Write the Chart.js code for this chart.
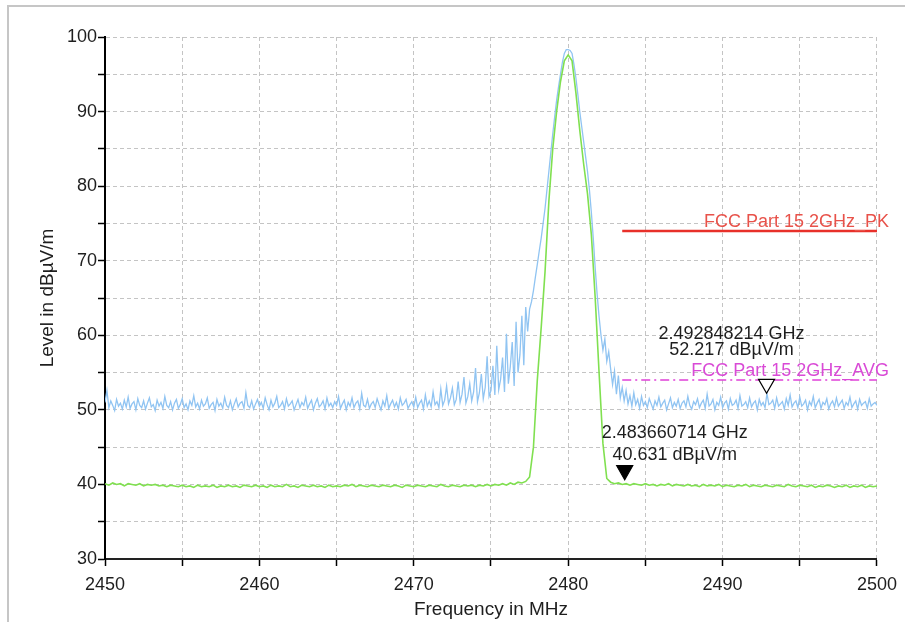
<!DOCTYPE html>
<html>
<head>
<meta charset="utf-8">
<script src="https://cdn.jsdelivr.net/npm/chart.js@4.4.1/dist/chart.umd.min.js"></script>
<style>
html, body { margin: 0; padding: 0; background: #fff; }
#wrap { position: relative; width: 905px; height: 622px; overflow: hidden; }
#wrap canvas { position: absolute; left: 0; top: 0; }
#frame { position: absolute; left: 7px; top: 5px; right: -4px; bottom: -4px; border-top: 2px solid #c6c6c6; border-left: 2px solid #c6c6c6; pointer-events: none; }
</style>
</head>
<body>
<div id="wrap"><canvas id="spectrum" width="905" height="622"></canvas><div id="frame"></div></div>
<script>
/* sweep: 2450 - 2500 MHz */
var sweepStart = 2450;
var sweepStop = 2500;

/* peak trace (blue), dBuV/m, 401 points */
var peakTrace = [
    51.0, 52.6, 50.3, 51.2, 50.6, 49.9, 51.4, 50.5, 50.9, 50.1, 51.3, 50.4, 51.7, 50.2, 50.8, 51.1, 50.0, 51.5, 50.6, 50.3,
    51.2, 50.1, 50.9, 51.6, 50.4, 50.7, 49.9, 51.3, 50.5, 51.0, 50.2, 51.8, 50.6, 50.3, 51.1, 50.0, 50.9, 51.4, 50.2, 50.7,
    51.5, 50.3, 50.8, 50.0, 51.2, 50.6, 51.9, 50.4, 50.9, 50.1, 51.3, 50.5, 50.8, 51.6, 50.2, 50.7, 51.0, 49.9, 51.4, 50.5,
    50.9, 50.2, 51.7, 50.6, 50.3, 51.2, 50.0, 50.8, 51.5, 50.4, 50.9, 51.1, 50.2, 52.3, 50.6, 50.3, 51.2, 50.1, 50.8, 51.4,
    50.5, 51.0, 50.2, 51.6, 50.7, 50.0, 51.3, 50.4, 50.9, 51.8, 50.3, 50.6, 51.1, 50.1, 51.5, 50.5, 50.8, 51.2, 50.0, 50.7,
    51.4, 50.3, 51.0, 50.6, 51.7, 50.2, 50.8, 51.3, 50.0, 50.9, 51.5, 50.4, 50.7, 51.2, 50.1, 51.6, 50.5, 50.9, 50.3, 51.1,
    50.6, 51.8, 50.2, 50.8, 51.3, 50.0, 51.0, 50.5, 51.6, 50.3, 50.9, 51.2, 50.1, 52.2, 50.6, 50.4, 51.4, 50.2, 50.8, 51.1,
    50.3, 51.5, 50.7, 50.0, 51.2, 50.5, 51.9, 50.2, 50.8, 51.3, 50.4, 51.0, 50.1, 51.6, 50.6, 50.9, 51.4, 50.2, 50.7, 51.1,
    50.4, 51.7, 50.3, 50.9, 51.3, 50.1, 52.0, 50.5, 51.2, 50.4, 52.4, 50.7, 51.1, 50.3, 52.8, 50.6,
    51.3, 53.2, 50.8, 51.6, 52.9, 50.7, 51.4, 53.8, 51.0, 52.1, 54.4, 50.9, 51.8, 53.5, 51.2, 52.4, 55.6, 51.1, 52.3, 54.8,
    51.5, 53.0, 57.2, 51.8, 52.6, 55.9, 52.0, 58.6, 52.7, 54.1, 57.0, 52.4, 60.2, 53.5, 55.8, 59.1, 53.2, 61.8, 55.0, 57.4,
    62.6, 56.0, 63.8, 60.5,
    63.5, 64.5, 66.0, 67.8, 69.5, 71.3, 73.0, 75.0, 77.0, 79.5, 82.0, 84.5, 87.0, 89.3, 91.5, 93.3, 95.0, 96.6, 97.8, 98.3,
    98.3, 98.2, 97.8, 96.3, 94.5, 92.3, 90.0, 88.0, 86.0, 84.0, 82.0, 79.5, 76.5, 73.0, 69.0, 65.5, 62.5, 60.0, 58.0, 59.5,
    56.5, 57.8, 55.5,
    53.4, 55.2, 52.1, 54.6, 51.6, 53.0, 51.2, 52.6, 50.8, 51.9, 50.5, 52.3, 50.7, 51.4, 50.2, 51.8, 50.6, 51.1,
    50.3, 51.5, 50.8, 50.1, 51.2, 50.6, 51.7, 50.4, 50.9, 51.3, 50.0, 50.8, 51.6, 50.3, 51.0, 50.5, 51.4, 50.2, 50.9, 51.2,
    50.4, 51.8, 50.6, 50.1, 51.1, 50.7, 51.5, 50.3, 50.9, 51.3, 50.2, 52.1, 50.5, 50.8, 51.4, 50.0, 51.0, 50.6, 51.7, 50.3,
    50.9, 51.2, 50.1, 51.5, 50.6, 50.8, 51.3, 50.2, 51.9, 50.5, 50.7, 51.1, 50.3, 51.6, 50.4, 50.9, 51.2, 50.0, 51.4, 50.6,
    51.0, 50.3, 52.2, 50.7, 50.9, 51.3, 50.2, 51.6, 50.5, 50.8, 51.1, 50.1, 51.5, 50.6, 52.0, 50.4, 50.9, 51.2, 50.3, 51.7,
    50.5, 50.8, 51.3, 50.0, 51.1, 50.6, 51.8, 50.3, 50.9, 51.4, 50.2, 51.0, 50.7, 51.5, 50.1, 50.8, 51.2, 50.4, 51.6, 50.5,
    50.9, 51.3, 50.2, 51.0, 50.6, 51.7, 50.3, 50.8, 51.2, 50.1, 51.4, 50.6, 50.9, 51.1, 50.2, 51.5, 50.5, 50.8, 51.0, 50.6
];

/* average trace (green), dBuV/m, 201 points */
var avgTrace = [
    40.1, 39.9, 40.2, 40.0, 40.1, 39.8, 40.1, 40.0, 39.9, 40.1, 39.8, 40.0, 39.9, 40.0, 39.8, 39.9, 39.7, 39.9, 39.8, 39.7,
    39.9, 39.7, 39.8, 39.6, 39.9, 39.7, 39.8, 39.7, 39.9, 39.6, 39.8, 39.7, 39.9, 39.7, 39.8, 39.6, 39.9, 39.8, 39.7, 39.9,
    39.7, 39.8, 39.6, 39.9, 39.7, 39.8, 39.7, 40.0, 39.7, 39.8, 39.6, 39.9, 39.8, 39.7, 39.9, 39.7, 39.8, 39.6, 39.9, 39.7,
    39.8, 39.7, 39.9, 39.8, 40.0, 39.7, 39.9, 39.8, 39.7, 39.9, 39.8, 39.7, 39.9, 39.8, 39.7, 39.9, 39.8, 39.6, 39.9, 39.8,
    39.7, 39.9, 39.8, 39.7, 39.9, 39.8, 39.7, 40.0, 39.8, 39.7, 39.9, 39.8, 39.7, 39.9, 39.8, 39.9, 39.7, 39.9, 39.8, 40.0,
    39.8, 40.0, 39.9, 40.1, 39.9, 40.2, 40.0, 40.3, 40.2, 40.4,
    41.0, 45.0, 54.0, 61.0, 68.5, 78.0, 85.0, 90.0, 94.0, 96.8, 97.6, 96.8, 92.5, 87.5, 83.0, 79.0, 73.5, 65.0, 55.0, 45.5, 40.8,
    40.3, 40.1, 40.2, 40.0, 40.1, 39.9, 40.1, 40.0, 39.9, 40.1, 39.9, 40.0, 39.8, 40.0, 39.9, 40.1, 39.8, 40.0, 39.9, 39.8,
    40.0, 39.8, 39.9, 39.7, 40.0, 39.8, 39.9, 39.8, 40.0, 39.7, 39.9, 39.8, 39.7, 39.9, 39.8, 40.0, 39.7, 39.9, 39.8, 39.7,
    39.9, 39.8, 39.7, 39.9, 39.8, 39.7, 40.0, 39.8, 39.7, 39.9, 39.8, 39.7, 39.9, 39.6, 39.8, 39.7, 39.9, 39.8, 39.6, 39.8,
    39.7, 39.9, 39.6, 39.8, 39.7, 39.9, 39.6, 39.8, 39.7, 39.8
];

/* limit lines */
var limitNames = ["FCC Part 15 2GHz_PK", "FCC Part 15 2GHz_AVG"];
var limitLevels = [74, 54];
var limitStart = 2483.5;
var limitStop = 2500;

/* markers */
var markerFreqs = [2492.848214, 2483.660714];
var markerLevels = [52.217, 40.631];

/* styles */
var limitColors = ["#e8302a", "#e040d8"];
var limitTextColors = ["#e8524a", "#d94ad6"];
var markerFilled = [false, true];
var markerTextDx = [-35, 50];
var markerTextDy = [[-59, -43], [-47, -25]];

// spread a trace evenly over the sweep
function toPoints(values) {
    var pts = [];
    var step = (sweepStop - sweepStart) / (values.length - 1);
    for (var i = 0; i < values.length; i++) {
        pts.push({ x: sweepStart + i * step, y: values[i] });
    }
    return pts;
}

function limitPoints(level) {
    return [{ x: limitStart, y: level }, { x: limitStop, y: level }];
}

var fontFamily = "'Liberation Sans', Arial, sans-serif";
Chart.defaults.font.family = fontFamily;
Chart.defaults.color = "#1e1e1e";

var overlay = {
    id: "overlay",
    afterDatasetsDraw: function (chart) {
        var ctx = chart.ctx;
        var xs = chart.scales.x;
        var ys = chart.scales.y;
        ctx.save();
        ctx.font = "18px " + fontFamily;

        // limit line names
        ctx.textAlign = "right";
        ctx.textBaseline = "alphabetic";
        for (var i = 0; i < limitNames.length; i++) {
            ctx.fillStyle = limitTextColors[i];
            ctx.fillText(limitNames[i], xs.getPixelForValue(limitStop) + 12, ys.getPixelForValue(limitLevels[i]) - 4);
        }

        // markers
        for (var j = 0; j < markerFreqs.length; j++) {
            var px = xs.getPixelForValue(markerFreqs[j]);
            var py = ys.getPixelForValue(markerLevels[j]);
            ctx.beginPath();
            ctx.moveTo(px, py);
            ctx.lineTo(px - 8, py - 14);
            ctx.lineTo(px + 8, py - 14);
            ctx.closePath();
            ctx.fillStyle = markerFilled[j] ? "#000" : "#fff";
            ctx.fill();
            ctx.lineWidth = 1.2;
            ctx.strokeStyle = "#000";
            ctx.stroke();

            ctx.fillStyle = "#1e1e1e";
            ctx.textAlign = "center";
            ctx.textBaseline = "middle";
            ctx.fillText((markerFreqs[j] / 1000).toFixed(9) + " GHz", px + markerTextDx[j], py + markerTextDy[j][0]);
            ctx.fillText(markerLevels[j].toFixed(3) + " dB\u00b5V/m", px + markerTextDx[j], py + markerTextDy[j][1]);
        }
        ctx.restore();
    }
};

var canvasElement = document.getElementById("spectrum");

var config =
{
    type : "line",
    data :
    {
        datasets: [
            {
                label : limitNames[0],
                data : limitPoints(limitLevels[0]),
                borderColor : limitColors[0],
                borderWidth : 2.5,
                pointRadius : 0,
            },
            {
                label : limitNames[1],
                data : limitPoints(limitLevels[1]),
                borderColor : limitColors[1],
                borderWidth : 1.5,
                borderDash : [9, 4, 2, 4],
                pointRadius : 0,
            },
            {
                label : "Average",
                data : toPoints(avgTrace),
                borderColor : "#80e050",
                borderWidth : 1.6,
                pointRadius : 0,
            },
            {
                label : "Peak",
                data : toPoints(peakTrace),
                borderColor : "#90c4f2",
                borderWidth : 1.3,
                pointRadius : 0,
            },
        ],
    },
    options :
    {
        responsive : false,
        animation : false,
        events : [],
        layout : { padding : { top : 37, right : 27, left : 0, bottom : 0 } },
        plugins : { legend : { display : false }, tooltip : { enabled : false } },
        scales :
        {
            x : {
                type : "linear",
                min : sweepStart,
                max : sweepStop,
                afterFit : function (scale) { scale.height = 63; },
                ticks : {
                    stepSize : 5,
                    autoSkip : false,
                    maxRotation : 0,
                    padding : 8,
                    font : { size : 18 },
                    color : "#1e1e1e",
                    callback : function (v) { return v % 10 === 0 ? v : ""; },
                },
                grid : { color : "#c4c4c4", lineWidth : 1, tickLength : 7, tickColor : "#000", tickWidth : 1.5, tickBorderDash : [] },
                border : { color : "#222", width : 2, dash : [4, 3] },
                title : { display : true, text : "Frequency in MHz", font : { size : 19 }, color : "#1e1e1e", padding : { top : 0, bottom : 1 } },
            },
            y : {
                type : "linear",
                min : 30,
                max : 100,
                afterFit : function (scale) { scale.width = 105; },
                ticks : {
                    stepSize : 5,
                    autoSkip : false,
                    padding : 1,
                    font : { size : 18 },
                    color : "#1e1e1e",
                    callback : function (v) { return v % 10 === 0 ? v : ""; },
                },
                grid : { color : "#c4c4c4", lineWidth : 1, tickLength : 7, tickColor : "#000", tickWidth : 1.5, tickBorderDash : [] },
                border : { color : "#000", width : 2, dash : [4, 3] },
                title : { display : true, text : "Level in dB\u00b5V/m", font : { size : 19 }, color : "#1e1e1e", padding : { top : 36, bottom : 0 } },
            },
        },
    },
    plugins : [overlay],
};

var chart = new Chart(canvasElement, config);
</script>
</body>
</html>
